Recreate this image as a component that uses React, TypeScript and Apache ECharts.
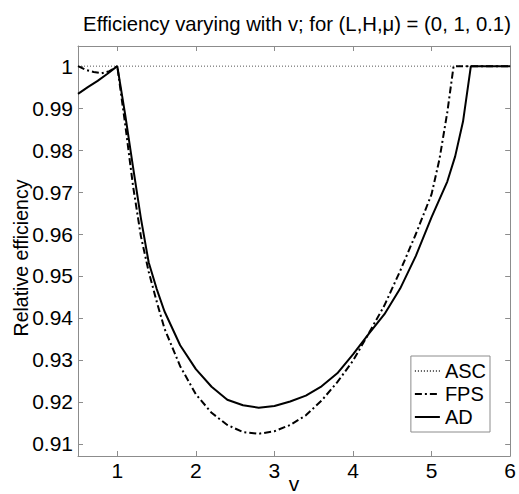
import React, { useEffect, useRef } from "react";
import * as echarts from "echarts";

const FONT = "'Liberation Sans', Arial, Helvetica, sans-serif";
const titleText = "Efficiency varying with v; for (L,H,\u03bc) = (0, 1, 0.1)";
const xName = "v";
const yName = "Relative efficiency";
const seriesNames = ["ASC", "FPS", "AD"];

const xTicks = [1, 2, 3, 4, 5, 6];
const yTicks = [0.91, 0.92, 0.93, 0.94, 0.95, 0.96, 0.97, 0.98, 0.99, 1.0];

const ascV = [0.5, 6.0];
const ascE = [1.0, 1.0];

const fpsV = [0.5, 0.6, 0.7, 0.8, 0.9, 1.0, 1.1, 1.2, 1.3, 1.4, 1.5, 1.6, 1.8, 2.0, 2.2, 2.4, 2.6, 2.8, 3.0, 3.2, 3.4, 3.6, 3.8, 4.0, 4.2, 4.4, 4.6, 4.8, 5.0, 5.1, 5.2, 5.28, 6.0];
const fpsE = [1.0, 0.9991, 0.9986, 0.9983, 0.9988, 1.0, 0.9862, 0.9715, 0.9595, 0.951, 0.944, 0.9375, 0.9285, 0.9218, 0.9174, 0.9145, 0.9128, 0.9124, 0.913, 0.9145, 0.9168, 0.9203, 0.9247, 0.9298, 0.9363, 0.943, 0.9512, 0.96, 0.9695, 0.9778, 0.989, 1.0, 1.0];

const adV = [0.5, 0.625, 0.75, 0.875, 1.0, 1.1, 1.2, 1.3, 1.4, 1.5, 1.6, 1.8, 2.0, 2.2, 2.4, 2.6, 2.8, 3.0, 3.2, 3.4, 3.6, 3.8, 4.0, 4.2, 4.4, 4.6, 4.8, 5.0, 5.2, 5.3, 5.4, 5.5, 6.0];
const adE = [0.9934, 0.995, 0.9965, 0.9982, 1.0, 0.9885, 0.976, 0.9638, 0.9532, 0.947, 0.9416, 0.9335, 0.9278, 0.9236, 0.9205, 0.9192, 0.9186, 0.919, 0.9201, 0.9215, 0.9237, 0.9268, 0.9313, 0.9362, 0.9409, 0.947, 0.9548, 0.964, 0.9725, 0.9785, 0.9868, 1.0, 1.0];

const pairs = (xs: number[], ys: number[]) => xs.map((x, i) => [x, ys[i]]);

export default function App() {
  const ref = useRef<HTMLDivElement>(null);
  useEffect(() => {
    document.body.style.margin = "0";
    const chart = echarts.init(ref.current!, null, { renderer: "svg" });
    const axisColor = "#8c8c8c";
    const txt = { color: "#000", fontSize: 21, fontFamily: FONT };
    const tickBase = { show: true, inside: true, length: 5, lineStyle: { color: axisColor, width: 1 } };
    chart.setOption({
      animation: false,
      backgroundColor: "#fff",
      grid: { left: 78, right: 7, top: 46, bottom: 38, containLabel: false },
      graphic: [
        {
          type: "text",
          x: 297,
          y: 24,
          style: { text: titleText, align: "center", verticalAlign: "middle", fontSize: 20.3, fontFamily: FONT, fill: "#000" },
        },
        {
          type: "text",
          x: 21,
          y: 258,
          rotation: Math.PI / 2,
          style: { text: yName, align: "center", verticalAlign: "middle", fontSize: 19.5, fontFamily: FONT, fill: "#000" },
        },
        {
          type: "text",
          x: 294,
          y: 494,
          style: { text: xName, align: "center", verticalAlign: "bottom", fontSize: 21, fontFamily: FONT, fill: "#000" },
        },
      ],
      xAxis: [
        {
          type: "value",
          min: 0.5,
          max: 6,
          position: "bottom",
          axisLine: { show: true, onZero: false, lineStyle: { color: axisColor, width: 1 } },
          axisTick: { ...tickBase, customValues: xTicks },
          axisLabel: { ...txt, margin: 4, customValues: xTicks, formatter: (v: number) => String(v) },
          splitLine: { show: false },
        },
        {
          type: "value",
          min: 0.5,
          max: 6,
          position: "top",
          axisLine: { show: true, onZero: false, lineStyle: { color: axisColor, width: 1 } },
          axisTick: { ...tickBase, customValues: xTicks },
          axisLabel: { show: false },
          splitLine: { show: false },
        },
      ],
      yAxis: [
        {
          type: "value",
          min: 0.9071,
          max: 1.0048,
          position: "left",
          axisLine: { show: true, onZero: false, lineStyle: { color: axisColor, width: 1 } },
          axisTick: { ...tickBase, customValues: yTicks },
          axisLabel: { ...txt, margin: 5, customValues: yTicks, formatter: (v: number) => String(Number(v.toFixed(2))) },
          splitLine: { show: false },
        },
        {
          type: "value",
          min: 0.9071,
          max: 1.0048,
          position: "right",
          axisLine: { show: true, onZero: false, lineStyle: { color: axisColor, width: 1 } },
          axisTick: { ...tickBase, customValues: yTicks },
          axisLabel: { show: false },
          splitLine: { show: false },
        },
      ],
      legend: {
        data: seriesNames,
        orient: "vertical",
        right: 29,
        bottom: 62,
        backgroundColor: "#fff",
        borderColor: axisColor,
        borderWidth: 1,
        borderRadius: 0,
        padding: [5, 4, 5, 3],
        itemWidth: 25,
        itemHeight: 14,
        itemGap: 3,
        itemStyle: { opacity: 0 },
        textStyle: { ...txt, fontSize: 20 },
      },
      series: [
        {
          name: seriesNames[0],
          type: "line",
          data: pairs(ascV, ascE),
          showSymbol: false,
          symbol: "none",
          lineStyle: { color: "#555", width: 1, type: [1, 2] },
          itemStyle: { color: "#555" },
          z: 2,
        },
        {
          name: seriesNames[1],
          type: "line",
          data: pairs(fpsV, fpsE),
          showSymbol: false,
          symbol: "none",
          lineStyle: { color: "#000", width: 2, type: [7, 3, 2, 3] },
          itemStyle: { color: "#000" },
          z: 3,
        },
        {
          name: seriesNames[2],
          type: "line",
          data: pairs(adV, adE),
          showSymbol: false,
          symbol: "none",
          lineStyle: { color: "#000", width: 2, type: "solid" },
          itemStyle: { color: "#000" },
          z: 4,
        },
      ],
    });
    return () => chart.dispose();
  }, []);
  return (
    <div
      ref={ref}
      style={{ position: "fixed", left: 0, top: 0, width: 519, height: 494, background: "#fff" }}
    />
  );
}
